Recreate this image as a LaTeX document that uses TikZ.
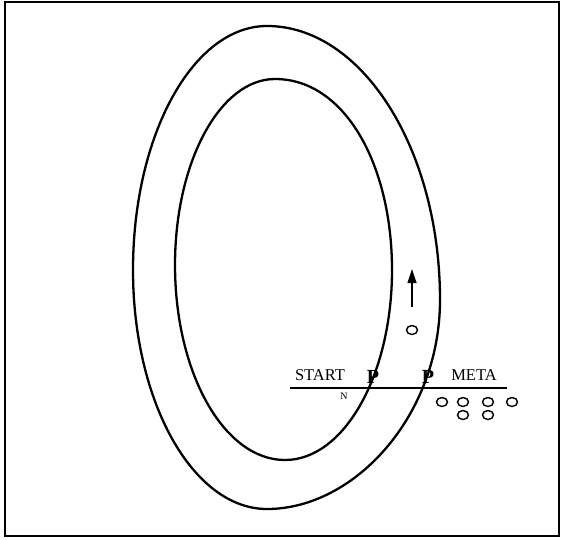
\documentclass[tikz,border=0pt]{standalone}
\usepackage{fontspec}
\setmainfont{Liberation Serif}
\usetikzlibrary{arrows.meta,shapes.geometric}

\begin{document}
\begin{tikzpicture}[x=1pt, y=-1pt,
		track/.style={line width=2.3pt},
		label/.style={font=\fontsize{16.5}{18}\selectfont, inner sep=0pt},
		post/.style={font=\fontsize{20}{21}\selectfont\bfseries, inner sep=0pt},
		ball/.style={draw, line width=1.4pt, ellipse, minimum width=11pt, minimum height=9pt, inner sep=0pt},
		arrow/.style={-{Triangle[length=14pt, width=9pt]}, line width=1.2pt},
		]
		
		\useasboundingbox (0,0) rectangle (562,539);
		\draw[line width=1.4pt] (5,2) rectangle (559,536);
		
		% outer edge of the track
		\draw[track] (267,26) .. controls (362,26) and (440,149) .. (440,300)
		.. controls (440,415) and (355,509) .. (267,509)
		.. controls (193,509) and (133,402) .. (133,270)
		.. controls (133,135) and (193,26) .. (267,26) -- cycle;
		% inner edge of the track
		\draw[track] (275,79) .. controls (345,79) and (392,165) .. (392,270)
		.. controls (392,375) and (344,460) .. (285,460)
		.. controls (224,460) and (175,373) .. (175,265)
		.. controls (175,162) and (220,79) .. (275,79) -- cycle;
		
		\coordinate (lineL) at (290,388);
		\coordinate (lineR) at (507,388);
		\draw[line width=2.2pt] (lineL) -- (lineR);
		
		\node[label] (start) at (320,375) {START};
		\node[label] (meta)  at (474,375) {META};
		\node[post]  (pin)   at (373,377) {P};
		\node[post]  (pout)  at (428,377) {P};
		\node[font=\fontsize{10}{11}\selectfont, inner sep=0pt] (n) at (344,396) {N};
		
		\node[ball] (car) at (412,330) {};
		\coordinate (head) at (412,269);
		\draw[arrow] ([yshift=18pt]car.north) -- (head);
		
		\foreach \x [count=\i] in {442,463,488,512}
		\node[ball] (ball\i) at (\x,402) {};
		\foreach \x [count=\i from 5] in {463,488}
		\node[ball] (ball\i) at (\x,415) {};
		
	\end{tikzpicture}
\end{document}
